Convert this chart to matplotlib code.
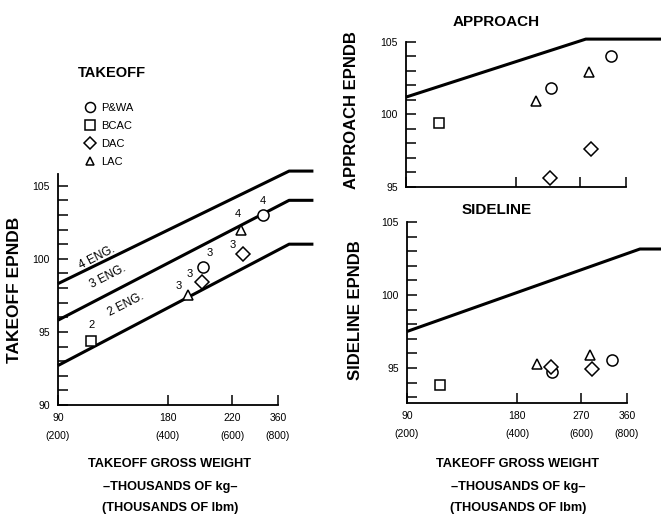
import matplotlib
matplotlib.use("Agg")
import matplotlib.pyplot as plt
from matplotlib.ticker import FixedLocator, NullFormatter

plt.rcParams['font.family'] = ['Liberation Sans', 'DejaVu Sans']

# ---------------- data ----------------
companies = ['P&WA', 'BCAC', 'DAC', 'LAC']
markers = ['o', 's', 'D', '^']

# takeoff gross weight, thousands of lbm (shared by all panels)
weight_pwa = [500, 730]
weight_bcac = [247]
weight_dac = [495, 640]
weight_lac = [455, 635]

# number of engines per aircraft
engines_pwa = [3, 4]
engines_bcac = [2]
engines_dac = [3, 3]
engines_lac = [3, 4]

takeoff_pwa = [99.45, 103.0]
takeoff_bcac = [94.4]
takeoff_dac = [98.4, 100.3]
takeoff_lac = [97.5, 102.0]

approach_pwa = [101.8, 104.0]
approach_bcac = [99.4]
approach_dac = [95.6, 97.6]
approach_lac = [100.9, 102.9]

sideline_pwa = [94.7, 95.55]
sideline_bcac = [93.8]
sideline_dac = [95.1, 94.9]
sideline_lac = [95.25, 95.9]

# FAR limit lines
limit_weight_takeoff = [200, 858, 1000]
limit_2eng = [92.7, 101.0, 101.0]
limit_3eng = [95.8, 104.0, 104.0]
limit_4eng = [98.3, 106.0, 106.0]
limit_weight_approach = [200, 621, 1000]
limit_approach = [101.2, 105.2, 105.2]
limit_weight_sideline = [200, 868, 1000]
limit_sideline = [97.5, 103.15, 103.15]

xtick_lbm = [200, 400, 600, 800]
xtick_left = ['90\n(200)', '180\n(400)', '220\n(600)', '360\n(800)']
xtick_right = ['90\n(200)', '180\n(400)', '270\n(600)', '360\n(800)']

weights = [weight_pwa, weight_bcac, weight_dac, weight_lac]
engines = [engines_pwa, engines_bcac, engines_dac, engines_lac]
takeoff = [takeoff_pwa, takeoff_bcac, takeoff_dac, takeoff_lac]
approach = [approach_pwa, approach_bcac, approach_dac, approach_lac]
sideline = [sideline_pwa, sideline_bcac, sideline_dac, sideline_lac]

# ---------------- figure ----------------
W, H = 661, 516
fig = plt.figure(figsize=(W / 100, H / 100), dpi=100)


def ax_px(x0, x1, ytop, ybot):
    return fig.add_axes([x0 / W, 1 - ybot / H, (x1 - x0) / W, (ybot - ytop) / H])


ax_t = ax_px(58, 278, 174, 405)
ax_a = ax_px(406, 626, 42, 187)
ax_s = ax_px(407, 627, 222, 403)

marker_sizes = {'o': 8, 's': 7.5, 'D': 7, '^': 7}


def style(ax, ylim, yticks, xlabels, minor):
    ax.set_xscale('log')
    ax.set_xlim(200, 800)
    ax.set_ylim(*ylim)
    for s in ('top', 'right'):
        ax.spines[s].set_visible(False)
    for s in ('left', 'bottom'):
        ax.spines[s].set_linewidth(1.3)
    ax.xaxis.set_major_locator(FixedLocator(xtick_lbm))
    ax.xaxis.set_minor_locator(FixedLocator([]))
    ax.xaxis.set_minor_formatter(NullFormatter())
    if xlabels is None:
        ax.set_xticklabels([''] * len(xtick_lbm))
    else:
        ax.set_xticklabels(xlabels, linespacing=2.0)
    ax.set_yticks(yticks)
    ax.set_yticklabels([str(int(v)) for v in yticks])
    ax.yaxis.set_minor_locator(FixedLocator(minor))
    ax.tick_params(which='both', direction='in', length=7, width=1.1,
                   labelsize=7.5, pad=6)
    ax.tick_params(axis='y', which='both', pad=6)


def plot_points(ax, values):
    for comp, m, xs, ys in zip(companies, markers, weights, values):
        ax.plot(xs, ys, linestyle='none', marker=m, markersize=marker_sizes[m],
                markerfacecolor='white', markeredgecolor='black',
                markeredgewidth=1.1, label=comp, clip_on=False, zorder=5)


lw = 2.2
xl_font = dict(ha='center', va='center', fontsize=9.2, fontweight='bold')

# ---- takeoff ----
style(ax_t, (90, 105.8), [90, 95, 100, 105], xtick_left,
      [v for v in range(91, 106)])
for ys in (limit_2eng, limit_3eng, limit_4eng):
    ax_t.plot(limit_weight_takeoff, ys, color='black', lw=lw, clip_on=False,
              solid_capstyle='butt', zorder=3)
plot_points(ax_t, takeoff)

label_offsets = {
    ('P&WA', 0): (6, 14), ('P&WA', 1): (-1, 14),
    ('BCAC', 0): (0, 16),
    ('DAC', 0): (-12, 8), ('DAC', 1): (-10, 9),
    ('LAC', 0): (-10, 9), ('LAC', 1): (-4, 16),
}
for comp, xs, ys, ens in zip(companies, weights, takeoff, engines):
    for i, (x, y, e) in enumerate(zip(xs, ys, ens)):
        dx, dy = label_offsets[(comp, i)]
        ax_t.annotate(str(e), (x, y), xytext=(dx, dy), textcoords='offset pixels',
                      ha='center', va='center', fontsize=8)

# line labels
for text, (xl, yl) in zip(['4 ENG.', '3 ENG.', '2 ENG.'],
                          [(97, 258), (108, 277), (126, 305)]):
    fig.text(xl / W, 1 - yl / H, text, rotation=27, ha='center', va='center',
             fontsize=8.5, rotation_mode='anchor')

leg = ax_t.legend(loc='upper left', bbox_to_anchor=(80 / W, 1 - 97 / H),
                  bbox_transform=fig.transFigure, frameon=False,
                  fontsize=8, handlelength=0.8, handletextpad=0.6,
                  labelspacing=0.72, borderpad=0, markerscale=0.9)

fig.text(112 / W, 1 - 73 / H, 'TAKEOFF', ha='center', va='center',
         fontsize=10.5, fontweight='bold')
fig.text(15 / W, 1 - 290 / H, 'TAKEOFF EPNDB', rotation=90, ha='center',
         va='center', fontsize=12.5, fontweight='bold')
fig.text(170 / W, 1 - 464 / H, 'TAKEOFF GROSS WEIGHT', **xl_font)
fig.text(170 / W, 1 - 487 / H, '\u2013THOUSANDS OF kg\u2013', **xl_font)
fig.text(170 / W, 1 - 508 / H, '(THOUSANDS OF lbm)', **xl_font)

# ---- approach ----
style(ax_a, (95, 105), [95, 100, 105], None, list(range(96, 105)))
ax_a.plot(limit_weight_approach, limit_approach, color='black', lw=lw,
          clip_on=False, solid_capstyle='butt', zorder=3)
plot_points(ax_a, approach)
fig.text(496 / W, 1 - 22 / H, 'APPROACH', ha='center', va='center',
         fontsize=11, fontweight='bold')
fig.text(352 / W, 1 - 110 / H, 'APPROACH EPNDB', rotation=90, ha='center',
         va='center', fontsize=12, fontweight='bold')

# ---- sideline ----
style(ax_s, (92.6, 105), [95, 100, 105], xtick_right, list(range(93, 105)))
ax_s.plot(limit_weight_sideline, limit_sideline, color='black', lw=lw,
          clip_on=False, solid_capstyle='butt', zorder=3)
plot_points(ax_s, sideline)
fig.text(497 / W, 1 - 210 / H, 'SIDELINE', ha='center', va='center',
         fontsize=11, fontweight='bold')
fig.text(355 / W, 1 - 310 / H, 'SIDELINE EPNDB', rotation=90, ha='center',
         va='center', fontsize=12, fontweight='bold')
fig.text(518 / W, 1 - 464 / H, 'TAKEOFF GROSS WEIGHT', **xl_font)
fig.text(518 / W, 1 - 487 / H, '\u2013THOUSANDS OF kg\u2013', **xl_font)
fig.text(518 / W, 1 - 508 / H, '(THOUSANDS OF lbm)', **xl_font)

fig.savefig('out.png', dpi=100)
